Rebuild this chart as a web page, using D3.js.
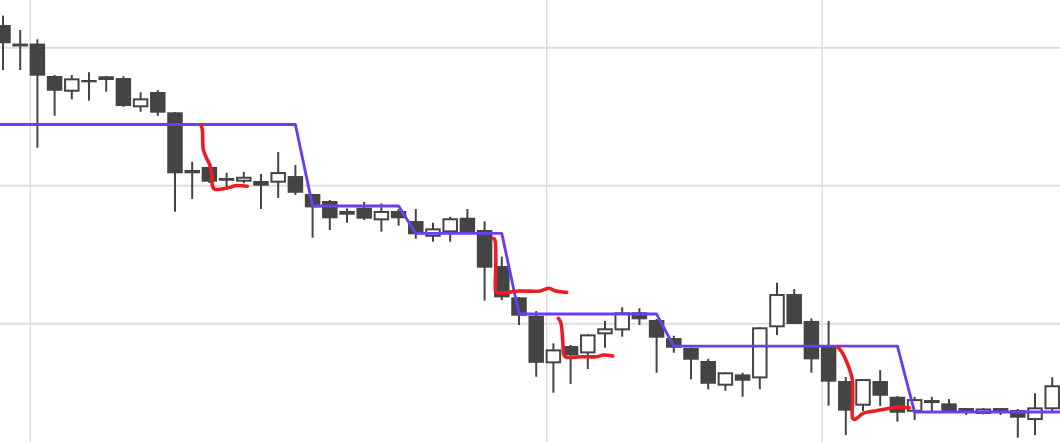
<!DOCTYPE html>
<html><head><meta charset="utf-8">
<script src="https://cdn.jsdelivr.net/npm/d3@7"></script>
<style>html,body{margin:0;padding:0;background:#fff;overflow:hidden}</style>
</head><body><svg id="c" width="1060" height="442"></svg>
<script>
// OHLC per bar (index = position)
const open  = [111.64,110.30,110.30,107.95,106.81,107.66,107.66,107.80,105.68,106.79,105.32,100.90,101.36,100.56,100.29,100.34,100.22,100.70,99.40,98.89,97.90,98.41,97.49,98.17,97.44,96.30,96.62,97.68,96.79,94.18,91.91,90.58,87.13,88.38,87.85,89.23,89.52,90.83,90.27,88.96,88.26,87.30,85.51,86.33,86.04,89.74,92.15,90.20,88.33,85.85,84.06,85.85,84.71,83.62,84.35,84.23,83.89,83.46,83.89,83.75,83.02,83.80];
const high  = [112.32,111.28,110.61,108.02,108.02,108.22,107.95,107.93,106.77,106.93,105.34,101.74,101.43,100.94,101.01,100.85,102.44,101.50,99.40,98.96,98.36,98.82,98.72,98.31,98.31,97.32,97.75,98.31,97.42,94.86,91.93,90.92,88.58,88.46,89.25,90.20,91.19,91.12,90.34,89.13,88.27,87.46,86.48,86.45,89.76,92.97,92.51,90.39,90.20,86.14,85.99,86.64,84.76,84.71,84.71,84.54,83.89,83.89,83.89,83.82,84.96,86.12];
const low   = [108.38,108.38,102.75,105.07,106.26,106.16,106.81,105.72,105.36,105.07,98.12,99.04,100.20,99.69,100.17,98.31,99.11,99.33,96.23,96.79,97.32,97.51,96.67,97.10,96.16,95.94,95.94,96.57,91.67,91.72,89.91,86.16,85.00,85.63,86.72,88.26,89.06,89.91,86.45,87.90,85.97,85.25,85.14,84.71,85.25,89.18,89.98,86.45,84.06,81.93,83.67,84.04,82.90,83.02,83.62,83.67,83.38,83.43,83.38,81.74,81.93,83.62];
const close = [110.32,110.09,107.97,106.88,107.78,107.49,107.93,105.77,106.33,105.29,100.90,101.14,100.29,100.36,100.65,100.00,100.99,99.49,98.43,97.64,98.17,97.61,98.17,97.64,96.48,96.91,97.64,96.59,94.06,91.91,90.58,87.17,88.14,87.73,89.23,89.67,90.83,90.32,88.99,88.26,87.39,85.65,86.48,85.87,89.74,92.15,89.98,87.42,85.80,83.70,85.99,84.78,83.55,84.54,84.47,83.67,83.67,83.86,83.67,83.19,83.94,85.54];
// Step level line value per bar
const level = [104.43,104.43,104.43,104.43,104.43,104.43,104.43,104.43,104.43,104.43,104.43,104.43,104.43,104.43,104.43,104.43,104.43,104.43,
  98.53,98.53,98.53,98.53,98.53,98.53,
  96.55,96.55,96.55,96.55,96.55,96.55,
  90.70,90.70,90.70,90.70,90.70,90.70,90.70,90.70,90.70,
  88.38,88.38,88.38,88.38,88.38,88.38,88.38,88.38,88.38,88.38,88.38,88.38,88.38,88.38,
  83.60,83.60,83.60,83.60,83.60,83.60,83.60,83.60,83.60,83.60];
// Hand-drawn annotation strokes [barIndex, price]
const stroke1 = [[11.51,104.40],[11.59,104.04],[11.65,102.59],[11.84,101.99],[12.03,101.50],[12.13,100.90],[12.19,99.93],[12.33,99.74],[12.72,99.76],[13.20,99.88],[13.49,100.00],[14.20,99.96]];
const stroke2 = [[28.51,96.19],[28.60,96.06],[28.65,94.13],[28.66,92.32],[28.80,92.20],[29.96,92.37],[31.22,92.37],[31.76,92.57],[32.09,92.39],[32.77,92.27]];
const stroke3 = [[32.29,90.39],[32.44,90.03],[32.54,88.82],[32.62,87.73],[32.77,87.57],[33.55,87.61],[34.52,87.61],[34.90,87.73],[35.45,87.66]];
const stroke4 = [[48.51,88.33],[48.76,87.97],[49.05,87.25],[49.29,86.41],[49.38,85.92],[49.40,84.47],[49.40,83.14],[49.54,83.07],[50.02,83.51],[50.80,83.70],[51.57,83.87],[52.15,83.94],[52.69,83.91]];
// Grid tick values
const yTicks = [110, 100, 90];
const xTicks = [1.59, 31.61, 47.62];

const W = 1060, H = 442;
const svg = d3.select('#c');
const x = d3.scaleLinear().domain([-0.174, 61.453]).range([0, W]);
const y = d3.scaleLinear().domain([81.43, 113.456]).range([H, 0]);
const bw = 15.5;

const g = svg.append('g');
g.selectAll('line.hg').data(yTicks).join('line')
  .attr('x1', 0).attr('x2', W).attr('y1', d => y(d)).attr('y2', d => y(d))
  .attr('stroke', '#dedede').attr('stroke-width', 2);
g.selectAll('line.vg').data(xTicks).join('line')
  .attr('y1', 0).attr('y2', H).attr('x1', d => x(d)).attr('x2', d => x(d))
  .attr('stroke', '#dedede').attr('stroke-width', 1.5);

const bars = open.map((o, i) => ({i, o, h: high[i], l: low[i], c: close[i]}));
const cg = svg.append('g');
cg.selectAll('line.w').data(bars).join('line')
  .attr('x1', d => x(d.i)).attr('x2', d => x(d.i))
  .attr('y1', d => y(d.h)).attr('y2', d => y(d.l))
  .attr('stroke', '#444').attr('stroke-width', 2);
cg.selectAll('rect').data(bars).join('rect')
  .attr('x', d => d.c >= d.o ? x(d.i) - bw/2 + 1 : x(d.i) - bw/2)
  .attr('width', d => d.c >= d.o ? bw - 2 : bw)
  .attr('y', d => d.c >= d.o ? y(d.c) + 1 : y(d.o))
  .attr('height', d => d.c >= d.o ? Math.max(1, y(d.o) - y(d.c) - 2) : Math.max(2, y(d.c) - y(d.o)))
  .attr('fill', d => d.c >= d.o ? '#fff' : '#444')
  .attr('stroke', d => d.c >= d.o ? '#444' : 'none')
  .attr('stroke-width', 2);

const lvl = level.map((v, i) => [i, v]);
lvl.unshift([x.invert(0), level[0]]);
lvl.push([x.invert(W), level[level.length - 1]]);
svg.append('path').datum(lvl)
  .attr('d', d3.line().x(d => x(d[0])).y(d => y(d[1])))
  .attr('fill', 'none').attr('stroke', '#6b3ff0').attr('stroke-width', 2.9)
  .attr('stroke-linejoin', 'round');

svg.selectAll('path.ann').data([stroke1, stroke2, stroke3, stroke4]).join('path')
  .attr('class', 'ann')
  .attr('d', d3.line().x(d => x(d[0])).y(d => y(d[1])).curve(d3.curveCatmullRom))
  .attr('fill', 'none').attr('stroke', '#ec1c24').attr('stroke-width', 3.6)
  .attr('stroke-linecap', 'round').attr('stroke-linejoin', 'round');
</script></body></html>
